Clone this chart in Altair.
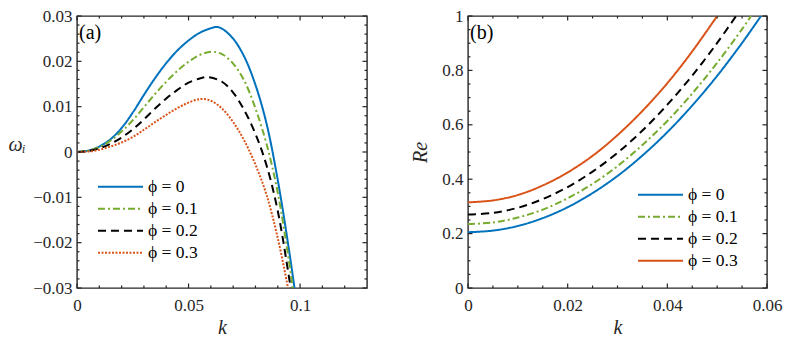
import altair as alt
import pandas as pd

# ---------------- shared styling ----------------
FONT = "Liberation Serif, DejaVu Serif, serif"
AXIS_COLOR = "#262626"
phi_labels = ["ϕ = 0", "ϕ = 0.1", "ϕ = 0.2", "ϕ = 0.3"]
line_colors = ["#0072BD", "#77AC30", "#000000", "#D95319"]
dash_a = [[1, 0], [7, 3, 2, 3], [8, 5], [2, 1.5]]
dash_b = [[1, 0], [7, 3, 2, 3], [8, 5], [1, 0]]
panel_tags = ["(a)", "(b)"]

# ---------------- panel (a): omega_i versus k ----------------
k_a0 = [0, 0.005, 0.01, 0.015, 0.02, 0.025, 0.03, 0.035, 0.04, 0.045, 0.05, 0.055,
        0.06, 0.0625, 0.065, 0.07, 0.075, 0.08, 0.085, 0.09, 0.095, 0.0975]
w_a0 = [0, 0.0003, 0.0012, 0.0028, 0.0053, 0.0087, 0.0126, 0.0163, 0.0196, 0.0224, 0.0246, 0.0263,
        0.0273, 0.0276, 0.0272, 0.0250, 0.0210, 0.0148, 0.0062, -0.0062, -0.0215, -0.030]

k_a1 = [0, 0.005, 0.01, 0.015, 0.02, 0.025, 0.03, 0.035, 0.04, 0.045, 0.05, 0.055,
        0.0605, 0.065, 0.07, 0.075, 0.08, 0.085, 0.09, 0.095, 0.0967]
w_a1 = [0, 0.0003, 0.0011, 0.0025, 0.0045, 0.0070, 0.0099, 0.0128, 0.0155, 0.0179, 0.0199, 0.0214,
        0.0221, 0.0216, 0.0195, 0.0157, 0.0096, 0.0017, -0.0090, -0.0240, -0.030]

k_a2 = [0, 0.005, 0.01, 0.015, 0.02, 0.025, 0.03, 0.035, 0.04, 0.045, 0.05, 0.055,
        0.0585, 0.065, 0.07, 0.075, 0.08, 0.085, 0.09, 0.095, 0.0958]
w_a2 = [0, 0.0002, 0.0008, 0.0018, 0.0032, 0.0050, 0.0072, 0.0096, 0.0118, 0.0137, 0.0153, 0.0162,
        0.01655, 0.0155, 0.0131, 0.0092, 0.0040, -0.0030, -0.0130, -0.0275, -0.030]

k_a3 = [0, 0.005, 0.01, 0.015, 0.02, 0.025, 0.03, 0.035, 0.04, 0.045, 0.05, 0.0555,
        0.06, 0.065, 0.07, 0.075, 0.08, 0.085, 0.09, 0.0946]
w_a3 = [0, 0.0001, 0.0005, 0.0012, 0.0021, 0.0033, 0.0049, 0.0066, 0.0082, 0.0097, 0.0109, 0.0117,
        0.0113, 0.0096, 0.0066, 0.0025, -0.0028, -0.0095, -0.0190, -0.030]

xa_major = [0, 0.05, 0.1]
xa_minor = [0.01, 0.02, 0.03, 0.04, 0.06, 0.07, 0.08, 0.09, 0.11, 0.12]
ya_major = [-0.03, -0.02, -0.01, 0, 0.01, 0.02, 0.03]
ya_minor = [-0.028, -0.026, -0.024, -0.022, -0.018, -0.016, -0.014, -0.012,
            -0.008, -0.006, -0.004, -0.002, 0.002, 0.004, 0.006, 0.008,
            0.012, 0.014, 0.016, 0.018, 0.022, 0.024, 0.026, 0.028]

# ---------------- panel (b): Re versus k ----------------
k_b0 = [0, 0.005, 0.01, 0.015, 0.02, 0.025, 0.03, 0.035, 0.04, 0.045, 0.05, 0.055, 0.0588]
r_b0 = [0.205, 0.211, 0.228, 0.257, 0.297, 0.349, 0.412, 0.487, 0.573, 0.671, 0.780, 0.901, 1.0]

k_b1 = [0, 0.005, 0.01, 0.015, 0.02, 0.025, 0.03, 0.035, 0.04, 0.045, 0.05, 0.055, 0.0568]
r_b1 = [0.235, 0.241, 0.259, 0.288, 0.330, 0.383, 0.448, 0.526, 0.614, 0.715, 0.828, 0.952, 1.0]

k_b2 = [0, 0.005, 0.01, 0.015, 0.02, 0.025, 0.03, 0.035, 0.04, 0.045, 0.05, 0.0538]
r_b2 = [0.270, 0.276, 0.295, 0.327, 0.371, 0.428, 0.497, 0.579, 0.674, 0.781, 0.901, 1.0]

k_b3 = [0, 0.005, 0.01, 0.015, 0.02, 0.025, 0.03, 0.035, 0.04, 0.045, 0.05]
r_b3 = [0.315, 0.322, 0.342, 0.377, 0.425, 0.486, 0.562, 0.651, 0.753, 0.870, 1.0]

xb_major = [0, 0.02, 0.04, 0.06]
xb_minor = [0.005, 0.01, 0.015, 0.025, 0.03, 0.035, 0.045, 0.05, 0.055]
yb_major = [0, 0.2, 0.4, 0.6, 0.8, 1]
yb_minor = [0.05, 0.1, 0.15, 0.25, 0.3, 0.35, 0.45, 0.5, 0.55,
            0.65, 0.7, 0.75, 0.85, 0.9, 0.95]


def frame(ks, vs):
    parts = []
    for lab, kk, vv in zip(phi_labels, ks, vs):
        parts.append(pd.DataFrame({"k": kk, "v": vv, "phi": lab}))
    return pd.concat(parts, ignore_index=True)


df_a = frame([k_a0, k_a1, k_a2, k_a3], [w_a0, w_a1, w_a2, w_a3])
df_b = frame([k_b0, k_b1, k_b2, k_b3], [r_b0, r_b1, r_b2, r_b3])


def panel(df, w, h, xdom, ydom, xmaj, xmin, ymaj, ymin, dashes,
          ytitle, ytitle_props, legend_xy, tag):
    xs = alt.Scale(domain=xdom, nice=False, zero=False)
    ys = alt.Scale(domain=ydom, nice=False, zero=False)

    legend = alt.Legend(orient="none", legendX=legend_xy[0], legendY=legend_xy[1],
                        title=None, symbolType="stroke", symbolSize=2025,
                        symbolStrokeWidth=2, clipHeight=21.3, rowPadding=0,
                        labelFont=FONT, labelFontSize=17.5, labelColor="black",
                        labelOffset=4, padding=0)

    lines = alt.Chart(df).mark_line(strokeWidth=2, clip=True,
                                    interpolate="catmull-rom").encode(
        x=alt.X("k:Q", scale=xs, axis=alt.Axis(
            values=xmaj, format="~g", ticks=False, tickSize=0, domain=False, grid=False,
            labelFlush=False, labelOverlap=False,
            labelFont=FONT, labelFontSize=17, labelColor=AXIS_COLOR, labelPadding=9,
            title="k", titleFont=FONT, titleFontSize=20, titleFontStyle="italic",
            titleFontWeight="normal", titleColor=AXIS_COLOR,
            titleY=45, titleBaseline="alphabetic")),
        y=alt.Y("v:Q", scale=ys, axis=alt.Axis(
            values=ymaj, format="~g", ticks=False, tickSize=0, domain=False, grid=False,
            labelFlush=False, labelOverlap=False,
            labelFont=FONT, labelFontSize=17, labelColor=AXIS_COLOR, labelPadding=5,
            title=ytitle, titleFont=FONT, titleFontSize=20, titleFontStyle="italic",
            titleFontWeight="normal", titleColor=AXIS_COLOR, **ytitle_props)),
        color=alt.Color("phi:N", scale=alt.Scale(domain=phi_labels, range=line_colors),
                        legend=legend),
        strokeDash=alt.StrokeDash("phi:N", scale=alt.Scale(domain=phi_labels, range=dashes),
                                  legend=legend),
        detail="phi:N",
    )

    # inward box ticks, drawn as short rules on each edge
    def xticks(vals, size):
        d = pd.DataFrame({"k": vals})
        base = alt.Chart(d).mark_rule(color=AXIS_COLOR, strokeWidth=1.2)
        bottom = base.encode(x=alt.X("k:Q", scale=xs, axis=None),
                             y=alt.value(h), y2=alt.value(h - size))
        top = base.encode(x=alt.X("k:Q", scale=xs, axis=None),
                          y=alt.value(0), y2=alt.value(size))
        return [bottom, top]

    def yticks(vals, size):
        d = pd.DataFrame({"v": vals})
        base = alt.Chart(d).mark_rule(color=AXIS_COLOR, strokeWidth=1.2)
        left = base.encode(y=alt.Y("v:Q", scale=ys, axis=None),
                           x=alt.value(0), x2=alt.value(size))
        right = base.encode(y=alt.Y("v:Q", scale=ys, axis=None),
                            x=alt.value(w), x2=alt.value(w - size))
        return [left, right]

    tick_layers = (xticks(xmaj, 4.5) + xticks(xmin, 2.5)
                   + yticks(ymaj, 4.5) + yticks(ymin, 2.5))

    label = alt.Chart(pd.DataFrame({"t": [tag]})).mark_text(
        align="left", baseline="middle", font=FONT, fontSize=20, color="black"
    ).encode(x=alt.value(2), y=alt.value(17), text="t:N")

    return alt.layer(lines, *tick_layers, label).resolve_axis(
        x="independent", y="independent"
    ).properties(
        width=w, height=h,
        view=alt.ViewBackground(stroke=AXIS_COLOR, strokeWidth=1.4, fill="white"),
    )


left = panel(df_a, 290, 272, [0, 0.13], [-0.03, 0.03], xa_major, xa_minor,
             ya_major, ya_minor, dash_a, "ωᵢ",
             dict(titleAngle=0, titleAlign="left", titleX=-69, titleY=134,
                  titleBaseline="alphabetic"),
             (20, 160), panel_tags[0])

right = panel(df_b, 299, 272, [0, 0.06], [0, 1], xb_major, xb_minor,
              yb_major, yb_minor, dash_b, "Re",
              dict(titleAngle=270, titleAlign="center", titleX=-48, titleY=136,
                   titleBaseline="middle"),
              (169, 168), panel_tags[1])

chart = alt.hconcat(left, right, spacing=101, bounds="flush").resolve_scale(
    color="independent", strokeDash="independent"
).properties(
    padding={"left": 7, "top": 6, "right": 5, "bottom": 5},
    background="white",
).configure_view(
    stroke=AXIS_COLOR, strokeWidth=1.4
)

chart.save("out.html", embed_options={"renderer": "svg", "actions": False})
